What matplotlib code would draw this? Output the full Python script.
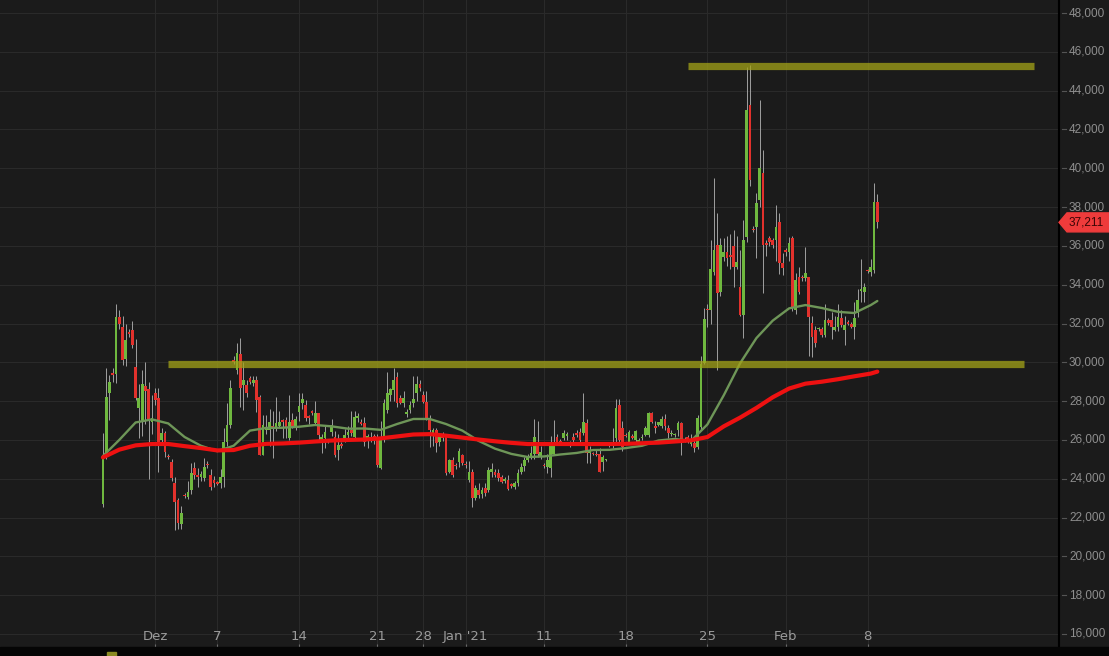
import numpy as np
import matplotlib
matplotlib.use("Agg")
import matplotlib.pyplot as plt
from matplotlib.patches import Polygon, Rectangle
from matplotlib.lines import Line2D
from matplotlib.transforms import blended_transform_factory

# candles (one per bar, ~5 bars per trading day)
opens = [
    22700, 25150, 28400, 29450, 29400, 32350, 31800, 30150, 31550, 31650,
    29750, 27650, 26900, 28800, 28600, 26900, 28400, 28150, 26000, 26350,
    25150, 24850, 23800, 22900, 21650, 23150, 23050, 23400, 24550, 24200,
    24100, 24050, 24750, 24200, 23950, 23800, 23800, 24100, 25900, 26750,
    30100, 29600, 30450, 28850, 28850, 29200, 28950, 29100, 28200, 25200,
    26500, 26500, 26700, 26650, 26700, 27000, 27050, 26100, 27050,
    26650, 27450, 27900, 27800, 27200, 27450, 26850, 27400, 25900, 26100,
    25950, 26400, 26150, 25500, 25800, 26050, 26250, 26500, 26150, 27150,
    26950, 26850, 26100, 26000, 26200, 26150, 24550, 26150, 27550,
    28300, 28550, 29250, 28150, 27900, 27350, 27550, 27900, 28400, 28900,
    28300, 27950, 27150, 26250, 26500, 25900, 26200, 26150, 24350, 24950,
    24700, 24850, 25200, 24750, 23950, 24350, 23000, 23400, 23200,
    23500, 23400, 24350, 24350, 24300, 24100, 23900, 23950, 23700, 23550,
    23800, 24350, 24650, 24950, 25100, 25250, 25750, 25100, 24700, 24600,
    24550, 25300, 26150, 25950, 26100, 26200, 25800, 26150, 26350,
    26400, 26350, 26850, 25350, 25300, 25300, 25300, 24850, 24950, 25750,
    25750, 26100, 27800, 26600, 26250, 25850, 26200, 26000, 25900, 26100,
    26250, 26250, 27400, 26700, 26750, 26700, 27100, 26600, 26300, 26250,
    26500, 26850, 26050, 26150, 25800, 25850, 25650, 26650,
    29950, 32750, 32700, 34650, 36050, 33600, 35450, 35700, 35550, 36000,
    34900, 33900, 32450, 36450, 43250, 36850, 36950, 38350, 39750, 36150,
    36400, 36300, 36300, 37250, 35100, 35750, 35700, 36400, 32700, 34400,
    34400, 34350, 34400, 32000, 31650, 31700, 31700, 31400, 32200, 32200,
    31650, 31800, 32300, 31650, 32100, 31950, 31800, 32550, 33700, 33600,
    34750, 34650, 34750, 38250,
]
highs = [
    26350, 29700, 29350, 29700, 33000, 32700, 32400, 32000, 31700, 32150,
    31200, 28900, 29600, 30000, 29000, 28300, 28700, 28700, 26600, 26450,
    25250, 25000, 24100, 23000, 22600, 23250, 23900, 24800, 24850, 24550,
    24400, 25050, 24900, 24500, 24150, 23900, 24500, 26600, 27900, 29100,
    30300, 31000, 31250, 30000, 29100, 29300, 29300, 29300, 28300, 27300,
    27300, 27600, 27500, 28200, 27500, 27100, 27200, 28300, 27400,
    27250, 28400, 28400, 28050, 27300, 27550, 28000, 27400, 26300, 26700,
    26050, 27100, 26450, 26300, 25900, 26550, 26700, 27500, 27500, 27400,
    27100, 27200, 26300, 26400, 26300, 26300, 27000, 28100, 29500,
    28700, 29700, 29500, 28300, 28500, 27600, 28000, 29300, 29300, 29100,
    28500, 28500, 27300, 26600, 26600, 26300, 26400, 26300, 25000, 25100,
    24800, 25600, 25300, 24900, 24900, 24500, 23700, 23800, 23600,
    23800, 24600, 24800, 24500, 24500, 24200, 24100, 24200, 23800, 23900,
    24500, 24800, 25100, 25250, 25700, 27100, 27000, 25700, 24800, 25300,
    26200, 27050, 26300, 26050, 26500, 26400, 25950, 26350, 26500,
    26600, 28400, 27100, 25700, 25400, 25500, 25600, 25200, 25000, 25900,
    26600, 28100, 28100, 27000, 26350, 26500, 26300, 26500, 26100, 26300,
    26700, 27450, 27450, 27000, 26950, 27250, 27350, 26750, 26500, 26350,
    27000, 26900, 26150, 26250, 26300, 26100, 27300, 30300,
    32800, 33000, 36300, 39500, 37700, 36400, 36400, 36500, 36600, 36800,
    36500, 35800, 37350, 45200, 45300, 37000, 38700, 43500, 40950, 36300,
    36500, 36400, 38100, 37700, 35650, 35900, 36450, 36500, 34600, 34900,
    34500, 35950, 34400, 32400, 31850, 31800, 31800, 33000, 32300, 32600,
    32400, 33000, 32700, 32400, 32200, 32100, 33100, 33800, 35300, 34100,
    34800, 35300, 39250, 38650,
]
lows = [
    22550, 25000, 27050, 29000, 28950, 31700, 29850, 29800, 31300, 30750,
    28050, 26100, 26200, 26800, 24000, 26300, 27800, 24350, 25800, 25100,
    25000, 23900, 21350, 21400, 21400, 23000, 22950, 23200, 24000, 23550,
    23900, 23900, 24550, 23400, 23550, 23700, 23500, 23600, 25700, 26600,
    29900, 29400, 27700, 27550, 28200, 28900, 28800, 27450, 25200, 25200,
    26300, 25700, 25050, 26450, 26600, 26100, 26100, 26000, 26600,
    26500, 27000, 27600, 27000, 26800, 27300, 26750, 26000, 25350, 25600,
    25850, 26200, 25100, 24950, 25600, 25900, 26100, 26200, 26050, 26900,
    26750, 25700, 25600, 25900, 25800, 24600, 24500, 25900, 27400,
    28000, 28000, 27700, 27850, 27700, 27200, 27400, 27700, 28000, 28500,
    27900, 27050, 25650, 25700, 25400, 25700, 25950, 24200, 24300, 24100,
    24500, 24600, 24700, 24550, 23850, 22550, 22900, 23000, 23000,
    23100, 23300, 24100, 24100, 23900, 23800, 23800, 23400, 23500, 23450,
    23650, 24250, 24400, 24850, 25000, 25000, 25100, 25000, 24550, 24300,
    24100, 25200, 25800, 25850, 26000, 26000, 25650, 25900, 26150,
    25900, 26250, 24800, 24800, 25200, 25150, 24350, 24400, 24900, 25650,
    25600, 25900, 25750, 25450, 26150, 25800, 26050, 25900, 25800, 26000,
    26200, 26150, 26850, 26350, 26700, 26600, 26500, 26100, 26200, 26150,
    26200, 25200, 25900, 25850, 25700, 25400, 25550, 26500,
    29900, 31800, 32000, 34500, 29600, 33400, 35200, 34950, 34800, 33900,
    34800, 32400, 31250, 36200, 39100, 36700, 35400, 38000, 33550, 35500,
    36000, 35900, 35200, 34550, 34500, 35500, 35200, 32650, 32500, 33500,
    34200, 34200, 30300, 30250, 30800, 31600, 31300, 31300, 31900, 31200,
    31600, 31600, 31800, 30900, 31900, 31750, 31200, 32350, 33100, 33100,
    34600, 34450, 34600, 36900,
]
closes = [
    25100, 28200, 29000, 29350, 32350, 31950, 30100, 31150, 31450, 30900,
    28150, 28150, 28900, 28500, 27100, 27150, 28050, 25900, 26350, 25400,
    25100, 24050, 22800, 21700, 22250, 23100, 23300, 24300, 24200, 24100,
    24250, 24600, 24700, 23600, 23800, 23750, 24100, 25900, 26750, 28700,
    30000, 30500, 28700, 29100, 28400, 29000, 29100, 28050, 25200, 26750,
    26650, 26900, 26600, 26850, 26900, 26950, 26600, 26900, 26650,
    27100, 27750, 28100, 27150, 27150, 27400, 27400, 26250, 26150, 26400,
    25900, 26750, 25200, 25750, 25700, 26250, 26400, 26350, 27200, 27200,
    26800, 25900, 26200, 26150, 26000, 24700, 26150, 27900, 28400,
    28600, 29100, 27900, 27900, 28150, 27450, 27800, 28100, 28900, 28700,
    27950, 27150, 26500, 26500, 25850, 26150, 26100, 24300, 24950, 24200,
    24650, 25450, 24800, 24700, 24350, 23000, 23500, 23150, 23400,
    23250, 24450, 24500, 24200, 24050, 23850, 23950, 23450, 23650, 23800,
    24300, 24600, 24950, 25100, 25350, 26150, 25250, 25400, 24650, 24950,
    25750, 25850, 25900, 25900, 26350, 26300, 25850, 26000, 26250,
    26000, 26900, 25350, 25500, 25250, 25200, 24350, 25100, 24960, 25850,
    25900, 27650, 26000, 25650, 26200, 26400, 26100, 26450, 26000, 26150,
    26600, 27400, 26900, 26600, 26900, 27100, 26700, 26350, 26350, 26300,
    26850, 25850, 25950, 25900, 26000, 25600, 27150, 29900,
    32250, 32700, 34800, 35800, 33550, 36050, 35700, 35350, 35450, 34900,
    35150, 32450, 36300, 43000, 39400, 36800, 38200, 40000, 36050, 36050,
    36200, 36050, 36950, 35100, 34850, 35700, 36150, 32850, 34250, 33600,
    34350, 34600, 32350, 31300, 31000, 31700, 31400, 32200, 32000, 31800,
    31800, 32350, 31900, 31900, 31950, 31800, 32300, 33200, 33750, 33900,
    34700, 34900, 38250, 37211,
]

# moving averages, sampled every 5th bar (last point at the final bar)
ma_bars = list(range(0, 236, 5)) + [237]
ma_fast = [
    25170, 26000, 26900, 27060, 26850, 26150, 25700, 25420, 25700, 26480,
    26620, 26630, 26680, 26770, 26700, 26580, 26590, 26520, 26820, 27080,
    27080, 26820, 26480, 25950, 25550, 25280, 25120, 25150, 25250, 25330,
    25480, 25490, 25580, 25700, 25970, 26050, 25950, 26800, 28300, 29950,
    31250, 32150, 32780, 32950, 32800, 32600, 32540, 32950, 33160,
]
ma_slow = [
    25100, 25500, 25720, 25790, 25790, 25680, 25580, 25460, 25480, 25700,
    25800, 25820, 25860, 25920, 25970, 26000, 26020, 26080, 26180, 26280,
    26300, 26220, 26120, 26020, 25930, 25850, 25790, 25790, 25790, 25790,
    25790, 25790, 25800, 25830, 25860, 25920, 25980, 26150, 26700, 27150,
    27650, 28200, 28650, 28900, 29000, 29130, 29280, 29420, 29520,
]

tick_bars = [16, 35, 60, 84, 98, 111, 135, 160, 185, 209, 234]
tick_labels = ["Dez", "7", "14", "21", "28", "Jan '21", "11", "18", "25", "Feb", "8"]
price_ticks = list(range(16000, 48001, 2000))

support_level = 29900
resistance_level = 45270
last_price = 37211

BG = "#1b1b1b"
GRID = "#2a2a2a"
GREEN = "#6fb83f"
RED = "#e2312c"
WICK = "#a0a0a0"
BAND = "#a3a317"
TXT = "#8e8e8e"

W, H = 1109, 656
fig = plt.figure(figsize=(W / 100, H / 100), dpi=100)
fig.patch.set_facecolor(BG)
ax = fig.add_axes([0, 9 / H, 1059 / W, 647 / H])
ax.set_facecolor(BG)
ax.set_xlim(-31.5, 292.6)
ax.set_ylim(15330, 48670)
ax.set_xticks([])
ax.set_yticks([])
for side, sp in ax.spines.items():
    sp.set_visible(side == "right")
ax.spines["right"].set_color("#000000")
ax.spines["right"].set_linewidth(1.5)

# grid
ax.hlines(price_ticks, -40, 300, color=GRID, lw=0.8, zorder=0)
ax.vlines(tick_bars, 15000, 49000, color=GRID, lw=0.8, zorder=0)

# candles
o = np.array(opens, float)
hi = np.array(highs, float)
lo = np.array(lows, float)
c = np.array(closes, float)
idx = np.arange(len(o))
up = c >= o
ax.vlines(idx, np.minimum(lo, np.minimum(o, c)), np.maximum(hi, np.maximum(o, c)),
          color=WICK, lw=0.7, zorder=2)
body = np.maximum(np.abs(c - o), 70)
base = np.minimum(o, c)
ax.bar(idx[up], body[up], bottom=base[up], width=0.84, color=GREEN, lw=0, zorder=3)
ax.bar(idx[~up], body[~up], bottom=base[~up], width=0.84, color=RED, lw=0, zorder=3)

# moving averages
ax.plot(ma_bars, ma_fast, color="#6e9658", lw=1.7, zorder=4, solid_capstyle="round")
ax.plot(ma_bars, ma_slow, color="#ee1111", lw=3.0, zorder=4, solid_capstyle="round")

# support / resistance bands
ax.plot([20, 282], [support_level] * 2, color=BAND, lw=5.2, alpha=0.75,
        solid_capstyle="butt", zorder=5)
ax.plot([179, 285], [resistance_level] * 2, color=BAND, lw=5.2, alpha=0.75,
        solid_capstyle="butt", zorder=5)

# x labels inside the plot
xt = blended_transform_factory(ax.transData, ax.transAxes)
for b, lab in zip(tick_bars, tick_labels):
    ax.text(b, 0.016, lab, transform=xt, ha="center", va="center", color="#9c9c9c",
            fontsize=9.5, family=["Liberation Sans Narrow", "DejaVu Sans"])
ax.vlines(tick_bars, 0, 0.004, transform=xt, color="#6a6a6a", lw=0.8)

# right price axis
yt = blended_transform_factory(fig.transFigure, ax.transData)
for v in price_ticks:
    fig.text(1069 / W, v, f"{v:,}", transform=yt, ha="left", va="center",
             color=TXT, fontsize=8.5, family=["Liberation Sans", "DejaVu Sans"])
    fig.add_artist(Line2D([1062 / W, 1066 / W], [v, v], transform=yt, color="#555555", lw=0.8))

# last price tag
y_tag = ax.transData.transform((0, last_price))[1] / H
th = 9.5 / H
tag = Polygon([(1059 / W, y_tag), (1067 / W, y_tag + th), (1, y_tag + th),
               (1, y_tag - th), (1067 / W, y_tag - th)], closed=True,
              transform=fig.transFigure, color="#ee3b3b", zorder=10)
fig.add_artist(tag)
fig.text(1069 / W, y_tag, f"{last_price:,}", ha="left", va="center", color="#3a0505",
         fontsize=8.5, family=["Liberation Sans", "DejaVu Sans"], zorder=11)

# bottom strip
fig.add_artist(Rectangle((0, 0), 1, 9 / H, transform=fig.transFigure, color="#050505", zorder=20))
fig.add_artist(Rectangle((107 / W, 0), 9 / W, 4 / H, transform=fig.transFigure,
                         color="#8a8a22", zorder=21))

fig.savefig("out.png", dpi=100, facecolor=BG)
plt.close(fig)
